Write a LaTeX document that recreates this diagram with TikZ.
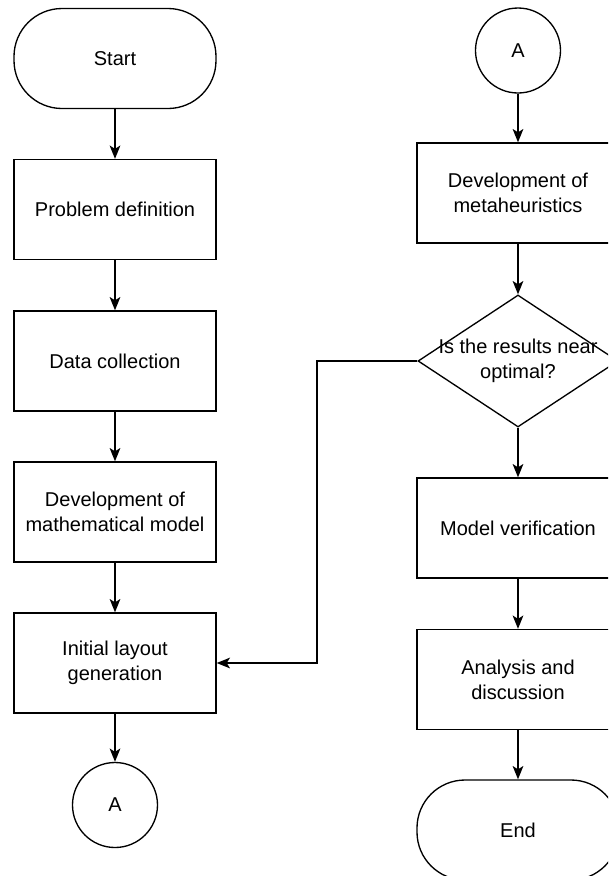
\documentclass[tikz,border=0pt]{standalone}
\usepackage{fontspec}
\setmainfont{Liberation Sans}
\usetikzlibrary{shapes.geometric,arrows.meta}

\tikzset{
  box/.style={draw, line width=1pt, fill=white,
    minimum width=151.5pt, minimum height=75pt, align=center,
    font=\fontsize{15}{18.75}\selectfont},
  term/.style={box, rounded corners=36pt},
  link/.style={circle, draw, line width=1pt, fill=white,
    minimum size=63.75pt, inner sep=0pt,
    font=\fontsize{15}{18.75}\selectfont},
  decision/.style={diamond, draw, line width=1pt, fill=white,
    minimum width=150pt, minimum height=99pt, inner sep=0pt},
  flow/.style={draw, line width=1pt,
    -{Stealth[length=10pt,width=8pt,inset=2.5pt]}}
}

\begin{document}
\begin{tikzpicture}[x=0.75pt,y=-0.75pt]
  \clip (0,0) rectangle (608,876);

  % left column
  \node[term] (start)   at (115,58.5)  {Start};
  \node[box]  (define)  at (115,209.5) {Problem definition};
  \node[box]  (collect) at (115,361)   {Data collection};
  \node[box]  (model)   at (115,512)   {Development of\\mathematical model};
  \node[box]  (layout)  at (115,663)   {Initial layout\\generation};
  \node[link] (outA)    at (115,805)   {A};

  % right column
  \node[link]     (inA)     at (518,50.5)  {A};
  \node[box]      (meta)    at (518,193)   {Development of\\metaheuristics};
  \node[decision] (check)   at (518,361)   {};
  \node[align=center, font=\fontsize{15}{18.75}\selectfont]
                  (ask)     at (check)     {Is the results near\\optimal?};
  \node[box]      (verify)  at (518,528)   {Model verification};
  \node[box]      (analyse) at (518,679.5) {Analysis and\\discussion};
  \node[term]     (finish)  at (518,830)   {End};

  \draw[flow] (start) -- (define);
  \draw[flow] (define) -- (collect);
  \draw[flow] (collect) -- (model);
  \draw[flow] (model) -- (layout);
  \draw[flow] (layout) -- (outA);

  \draw[flow] (inA) -- (meta);
  \draw[flow] (meta) -- (check.north);
  \draw[flow] (check.south) -- (verify);
  \draw[flow] (verify) -- (analyse);
  \draw[flow] (analyse) -- (finish);

  % back to the layout
  \coordinate (back) at (317,361);
  \draw[flow] (check.west) -- (back) |- (layout.east);
\end{tikzpicture}
\end{document}
